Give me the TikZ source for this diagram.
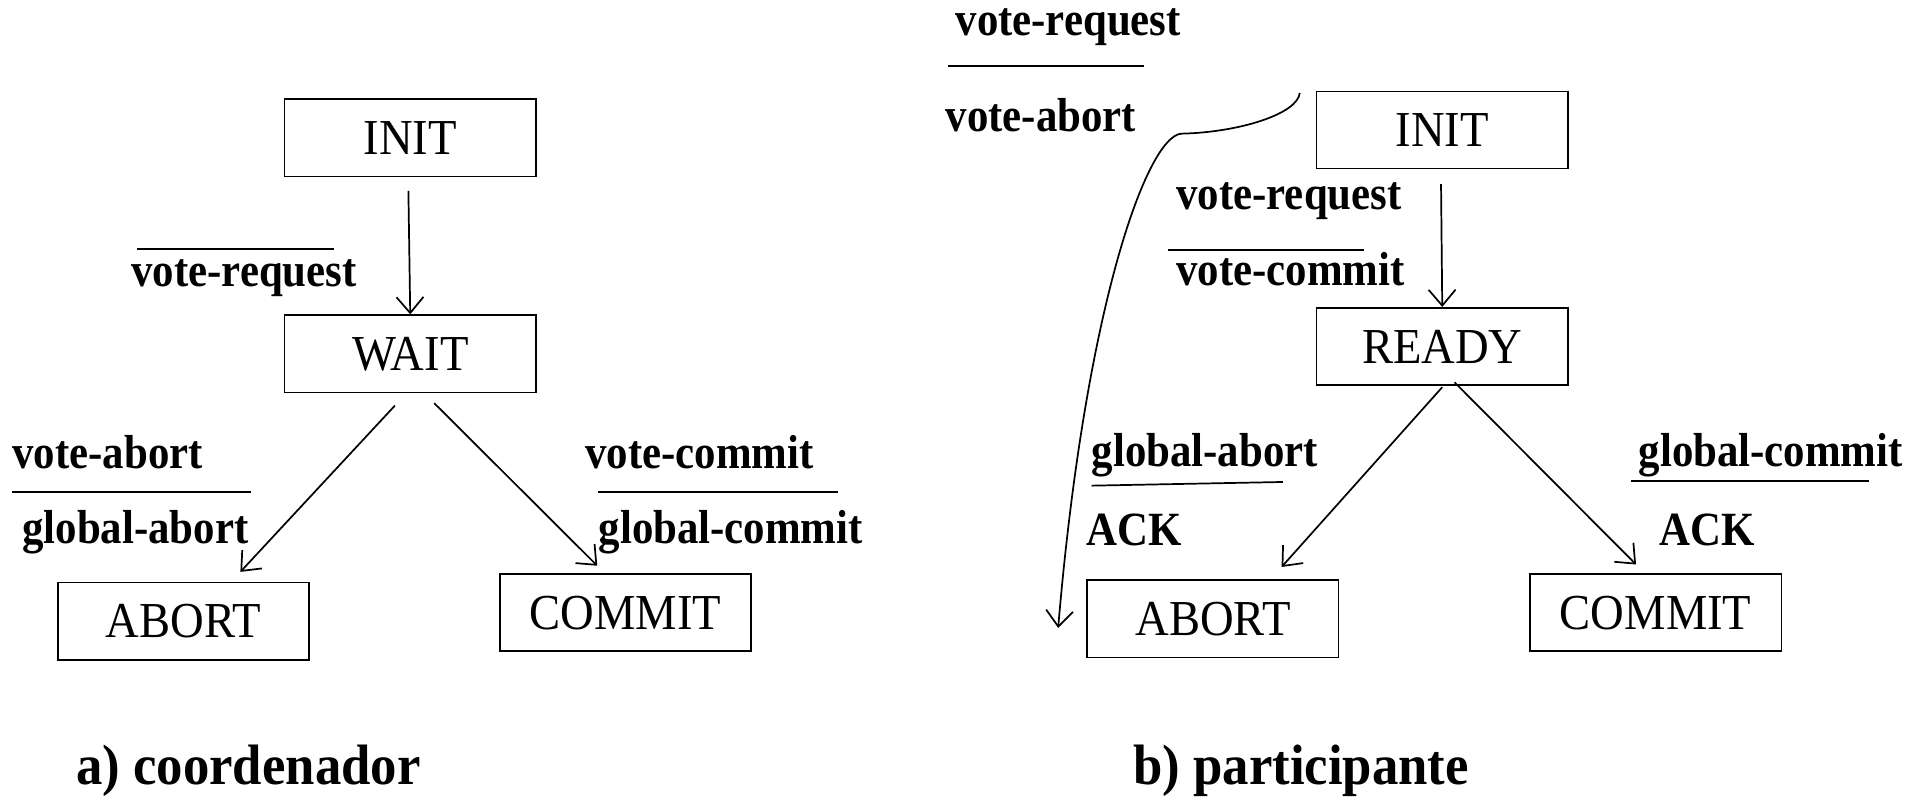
\documentclass[tikz,border=0pt]{standalone}
\usepackage{fontspec}
\setmainfont{Liberation Serif}
\newfontfamily\lblfont[FakeStretch=0.97]{Liberation Serif}
\usetikzlibrary{arrows.meta}
\newcommand{\vtall}[1]{\scalebox{1}[1.08]{#1}}
\tikzset{
  state/.style={draw,line width=1.4pt,minimum width=205pt,minimum height=63pt,inner sep=0pt,
    font=\fontsize{38}{40}\selectfont},
  lbl/.style={anchor=base west,inner sep=0pt,font=\lblfont\bfseries\fontsize{36}{40}\selectfont},
  ttl/.style={anchor=base west,inner sep=0pt,font=\bfseries\fontsize{43}{46}\selectfont},
  arr/.style={line width=1.4pt,-{Straight Barb[length=13pt,width=22pt,line width=1.4pt]}},
  bar/.style={line width=1.4pt}
}
\begin{document}
\begin{tikzpicture}[x=1pt,y=-1pt]
\useasboundingbox (0,0) rectangle (1568,651);
% ---- left: coordinator
\node[state] (linit) at (334.5,112.5) {\vtall{INIT}};
\node[state] (lwait) at (334.5,288.5) {\vtall{WAIT}};
\node[state] (labort) at (149.5,506.5) {\vtall{ABORT}};
\node[state] (lcommit) at (510,499.5) {\vtall{COMMIT}};
\draw[arr] ([xshift=-1.5pt,yshift=-11pt]linit.south) -- (lwait.north);
\draw[arr] ([xshift=-12.5pt,yshift=-10pt]lwait.south) -- ([xshift=46.5pt,yshift=8pt]labort.north);
\draw[arr] ([xshift=19.5pt,yshift=-8pt]lwait.south) -- ([xshift=-23pt,yshift=6pt]lcommit.north);
\node[lbl] (l1) at (107,234) {\vtall{vote-request}};
\draw[bar] (112,203) -- (272,203);
\node[lbl] (l2) at (10,382) {\vtall{vote-abort}};
\draw[bar] (10,401) -- (205,401);
\node[lbl] (l3) at (18,443) {\vtall{global-abort}};
\node[lbl] (l4) at (477,382) {\vtall{vote-commit}};
\draw[bar] (488,401) -- (683,401);
\node[lbl] (l5) at (488,443) {\vtall{global-commit}};
\node[ttl] (ta) at (62,640) {\vtall{a) coordenador}};
% ---- right: participant
\node[state] (rinit) at (1176,106) {\vtall{INIT}};
\node[state] (rready) at (1176,282.5) {\vtall{READY}};
\node[state] (rabort) at (989,504.5) {\vtall{ABORT}};
\node[state] (rcommit) at (1350,499.5) {\vtall{COMMIT}};
\draw[arr] ([xshift=-1pt,yshift=-12pt]rinit.south) -- (rready.north);
\draw[arr] ([yshift=-1pt]rready.south) -- ([xshift=56pt,yshift=10pt]rabort.north);
\draw[arr] ([xshift=10pt,yshift=3pt]rready.south) -- ([xshift=-16pt,yshift=7pt]rcommit.north);
\draw[arr] ([xshift=-13pt,yshift=-2pt]rinit.north west)
  .. controls (1058,93) and (1010,108) .. (963,109)
  .. controls (935,112) and (885,250) .. ([xshift=-23pt,yshift=-7.5pt]rabort.west);
\node[lbl] (r1) at (779,29) {\vtall{vote-request}};
\draw[bar] (773,54) -- (933,54);
\node[lbl] (r2) at (771,107) {\vtall{vote-abort}};
\node[lbl] (r3) at (959,171) {\vtall{vote-request}};
\draw[bar] (952,204) -- (1112,204);
\node[lbl] (r4) at (959,233) {\vtall{vote-commit}};
\node[lbl] (r5) at (890,380) {\vtall{global-abort}};
\draw[bar] (890,396) -- (1046,393);
\node[lbl] (r6) at (886,445) {\vtall{ACK}};
\node[lbl] (r7) at (1336,380) {\vtall{global-commit}};
\draw[bar] (1330,392) -- (1524,392);
\node[lbl] (r8) at (1353,445) {\vtall{ACK}};
\node[ttl] (tb) at (924,640) {\vtall{b) participante}};
\end{tikzpicture}
\end{document}
